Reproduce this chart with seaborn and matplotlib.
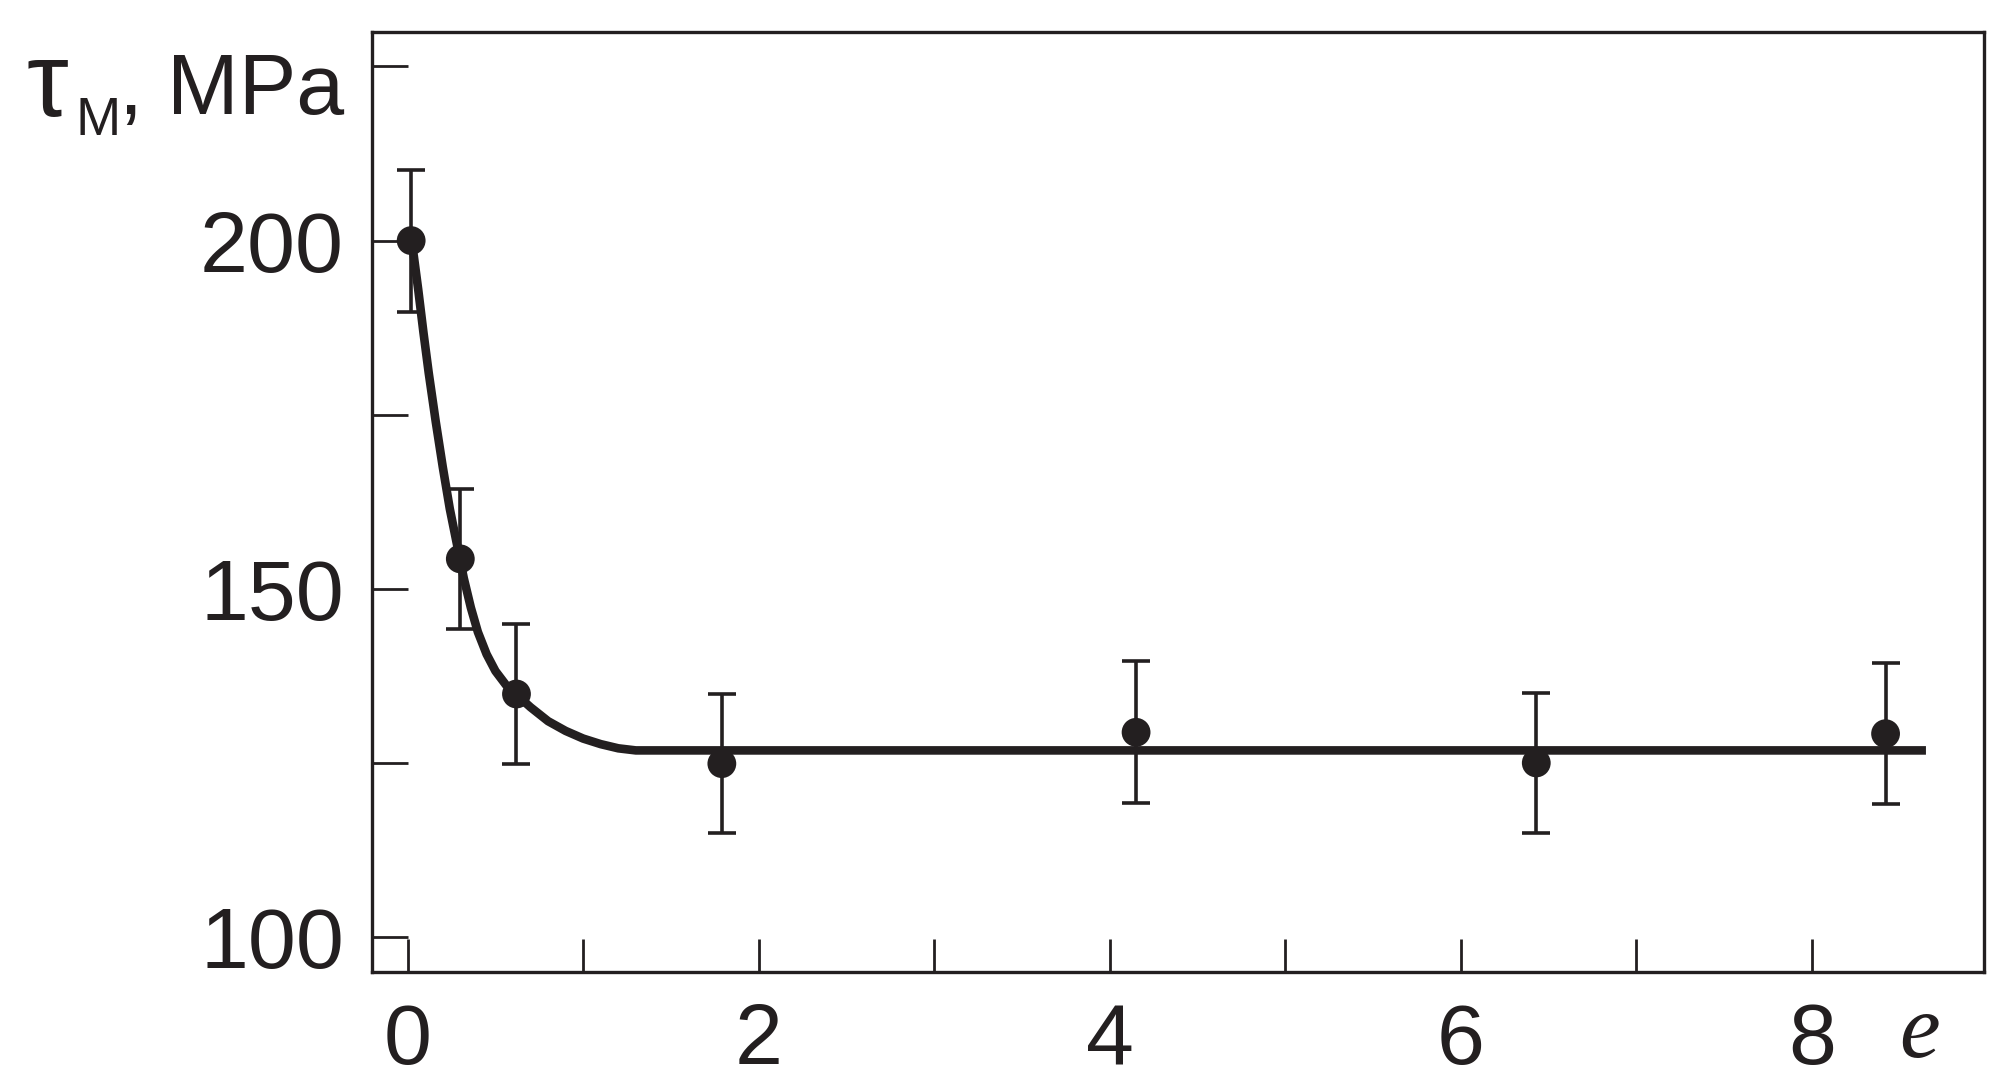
import numpy as np
import pandas as pd
import matplotlib.pyplot as plt
import seaborn as sns

# measured points
strain = [0.02, 0.30, 0.62, 1.79, 4.15, 6.43, 8.42]
tau_m = [200.0, 154.3, 134.9, 124.9, 129.4, 125.0, 129.2]
tau_err = [10.2, 10.0, 10.0, 10.0, 10.2, 10.0, 10.1]

# fitted curve
curve_e = [0.02, 0.035, 0.06, 0.09, 0.12, 0.16, 0.20, 0.24, 0.28, 0.32, 0.36,
           0.40, 0.45, 0.50, 0.56, 0.62, 0.70, 0.80, 0.90, 1.00, 1.10, 1.20,
           1.30, 8.65]
curve_tau = [200.0, 197.8, 193.0, 186.8, 181.0, 174.0, 167.5, 161.5, 156.5,
             151.5, 147.3, 143.8, 140.6, 138.2, 136.2, 134.8, 133.0, 131.0,
             129.6, 128.5, 127.7, 127.1, 126.8, 126.8]

x_major = [0, 2, 4, 6, 8]
x_minor = [1, 3, 5, 7]
y_major = [100, 150, 200]
y_minor = [125, 175, 225]

pts = pd.DataFrame({'e': strain, 'tau': tau_m, 'err': tau_err})
fit = pd.DataFrame({'e': curve_e, 'tau': curve_tau})

sns.set_style('ticks')
plt.rcParams['font.family'] = ['Liberation Sans', 'DejaVu Sans']
ink = '#231f20'

fig = plt.figure(figsize=(20.1, 10.92), dpi=100)
ax = fig.add_axes([0.185, 0.110, 0.802, 0.861])

sns.lineplot(data=fit, x='e', y='tau', ax=ax, color=ink, lw=6.2, sort=False,
             zorder=3, solid_joinstyle='round', solid_capstyle='butt')
ax.errorbar(pts['e'], pts['tau'], yerr=pts['err'], fmt='none', ecolor=ink,
            elinewidth=2.6, capsize=10, capthick=2.6, zorder=2)
sns.scatterplot(data=pts, x='e', y='tau', ax=ax, color=ink, s=430,
                edgecolor='none', zorder=4)

ax.set_xlim(-0.204, 8.98)
ax.set_ylim(95, 230)
ax.set_xticks(x_major)
ax.set_xticks(x_minor, minor=True)
ax.set_yticks(y_major)
ax.set_yticks(y_minor, minor=True)
ax.tick_params(which='both', direction='in', colors=ink, width=2, labelsize=62,
               labelcolor=ink)
ax.tick_params(axis='y', which='both', length=26, pad=20)
ax.tick_params(axis='x', which='both', length=24, pad=22)
for s in ax.spines.values():
    s.set_linewidth(2.4)
    s.set_color(ink)
ax.set_xlabel('')
ax.set_ylabel('')

# y label: tau with subscript M
fig.text(26 / 2010, 1 - 116 / 1092, 'τ', ha='left', va='baseline', fontsize=76,
         color=ink)
fig.text(75 / 2010, 1 - 135 / 1092, 'M', ha='left', va='baseline', fontsize=39,
         color=ink)
fig.text(344 / 2010, 1 - 114 / 1092, ', MPa', ha='right', va='baseline',
         fontsize=62, color=ink)
fig.text(0.955, 0.032, 'e', ha='center', va='baseline', fontsize=66,
         family='Liberation Serif', style='italic', color=ink)

plt.savefig('out.png', dpi=100)
